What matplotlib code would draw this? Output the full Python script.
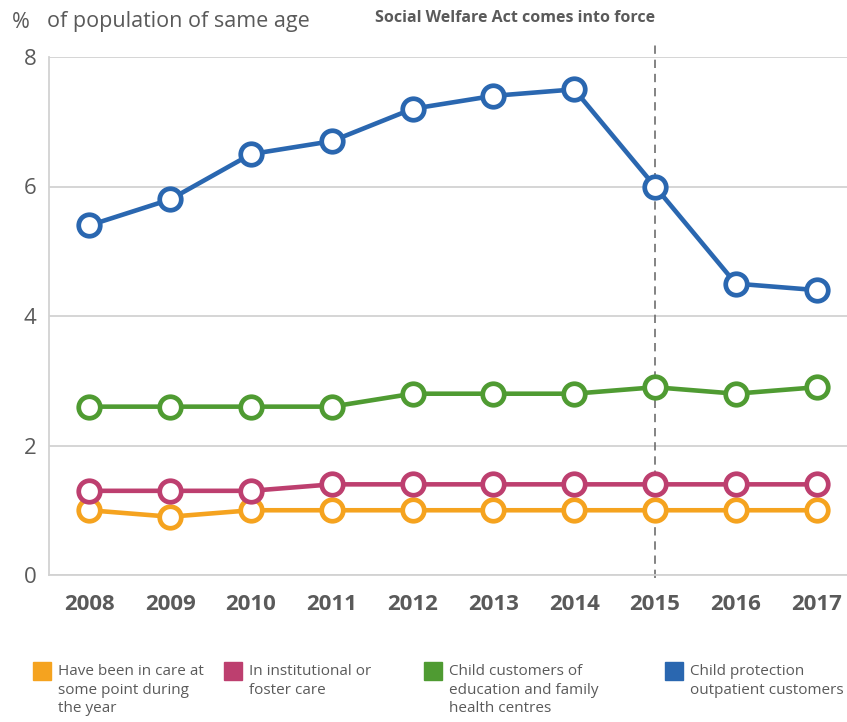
import matplotlib.pyplot as plt
from matplotlib.patches import Rectangle

plt.rcParams['font.family'] = ['Open Sans', 'DejaVu Sans']

years = ['2008', '2009', '2010', '2011', '2012', '2013', '2014', '2015', '2016', '2017']
care_during_year = [1.0, 0.9, 1.0, 1.0, 1.0, 1.0, 1.0, 1.0, 1.0, 1.0]
institutional_foster = [1.3, 1.3, 1.3, 1.4, 1.4, 1.4, 1.4, 1.4, 1.4, 1.4]
family_centres = [2.6, 2.6, 2.6, 2.6, 2.8, 2.8, 2.8, 2.9, 2.8, 2.9]
outpatient = [5.4, 5.8, 6.5, 6.7, 7.2, 7.4, 7.5, 6.0, 4.5, 4.4]

labels = ['Have been in care at\nsome point during\nthe year',
          'In institutional or\nfoster care',
          'Child customers of\neducation and family\nhealth centres',
          'Child protection\noutpatient customers']
colors = ['#F5A31F', '#BD3F6F', '#4F9B32', '#2A67B0']
act_year = '2015'

gray = '#5a5a5a'
grid_col = '#d2d2d2'

fig = plt.figure(figsize=(8.47, 7.22), dpi=100)
ax = fig.add_axes([49 / 847, 147 / 722, 1 - 49 / 847, 518 / 722])

x = list(range(len(years)))
series = [care_during_year, institutional_foster, family_centres, outpatient]
for vals, c in zip(series, colors):
    ax.plot(x, vals, color=c, lw=3.3, marker='o', ms=15.5,
            mfc='white', mec=c, mew=3.4, zorder=3, solid_capstyle='round')

ax.set_xlim(-0.5, 9.376)
ax.set_ylim(0, 8)
ax.set_yticks([0, 2, 4, 6, 8])
ax.set_xticks(x)
ax.set_xticklabels(years, fontsize=16, fontweight='bold', color=gray)
ax.tick_params(axis='x', length=0, pad=14)
ax.tick_params(axis='y', length=0, pad=9, labelsize=16, labelcolor=gray)
ax.grid(axis='y', color=grid_col, lw=1.3)
ax.set_axisbelow(True)
for side in ['top', 'right']:
    ax.spines[side].set_visible(False)
for side in ['left', 'bottom']:
    ax.spines[side].set_color(grid_col)
    ax.spines[side].set_linewidth(1.3)

# reform marker line
xi = years.index(act_year)
ax.plot([xi, xi], [-0.04, 8.27], color='#6e6e6e', lw=1.2, ls=(0, (5, 3.5)),
        clip_on=False, zorder=2)
ax.text(xi, 8.6, 'Social Welfare Act comes into force', ha='right', va='center',
        fontsize=11.5, fontweight='bold', color=gray)

fig.text(12 / 847, 1 - 22 / 722, '%', fontsize=15.5, color=gray, va='center')
fig.text(47 / 847, 1 - 22 / 722, 'of population of same age', fontsize=15.5,
         color=gray, va='center')

# legend
sq_x = [33, 224, 424, 665]
for sx, lab, c in zip(sq_x, labels, colors):
    fig.patches.append(Rectangle((sx / 847, 1 - 680 / 722), 18 / 847, 18 / 722,
                                 transform=fig.transFigure, color=c))
    fig.text((sx + 25) / 847, 1 - 664 / 722, lab, fontsize=11, color=gray,
             va='top', ha='left', linespacing=1.33)

fig.savefig('out.png', dpi=100)
